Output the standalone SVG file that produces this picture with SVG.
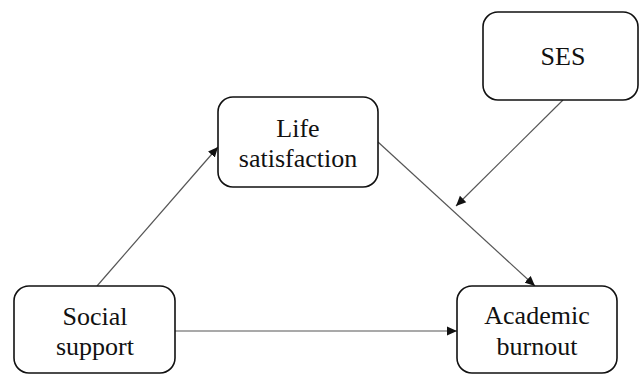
<svg xmlns="http://www.w3.org/2000/svg" width="642" height="375" viewBox="0 0 642 375">
<defs>
<style>
.box{fill:#fff;stroke:#111;stroke-width:1.6}
.lbl{font-family:'Liberation Serif','DejaVu Serif',serif;font-size:26px;fill:#111;text-anchor:middle}
.edge{stroke:#555;stroke-width:1.2;fill:none;marker-end:url(#ah)}
</style>
<marker id="ah" viewBox="0 0 10 10" refX="10" refY="5" markerWidth="10" markerHeight="10" markerUnits="userSpaceOnUse" orient="auto">
<path d="M0,0.5 L10,5 L0,9.5 Z" fill="#111"/>
</marker>
</defs>
<rect width="642" height="375" fill="#fff"/>
<g id="connectors">
<line class="edge" x1="97" y1="286" x2="218" y2="147"/>
<line class="edge" x1="175" y1="331" x2="457" y2="331"/>
<line class="edge" x1="378" y1="142" x2="535" y2="286"/>
<line class="edge" x1="563" y1="100" x2="456" y2="206"/>
</g>
<g id="social-support">
<rect class="box" x="14" y="286" width="161" height="87" rx="15"/>
<text class="lbl" font-family="Liberation Serif, serif" x="95" y="325">Social</text>
<text class="lbl" font-family="Liberation Serif, serif" x="95" y="355">support</text>
</g>
<g id="academic-burnout">
<rect class="box" x="457" y="286" width="160" height="87" rx="15"/>
<text class="lbl" font-family="Liberation Serif, serif" x="537" y="324">Academic</text>
<text class="lbl" font-family="Liberation Serif, serif" x="537" y="355">burnout</text>
</g>
<g id="life-satisfaction">
<rect class="box" x="218" y="97" width="160" height="90" rx="15"/>
<text class="lbl" font-family="Liberation Serif, serif" x="298" y="137">Life</text>
<text class="lbl" font-family="Liberation Serif, serif" x="298" y="167">satisfaction</text>
</g>
<g id="ses">
<rect class="box" x="483" y="12" width="155" height="88" rx="15"/>
<text class="lbl" font-family="Liberation Serif, serif" x="563" y="65">SES</text>
</g>
</svg>
